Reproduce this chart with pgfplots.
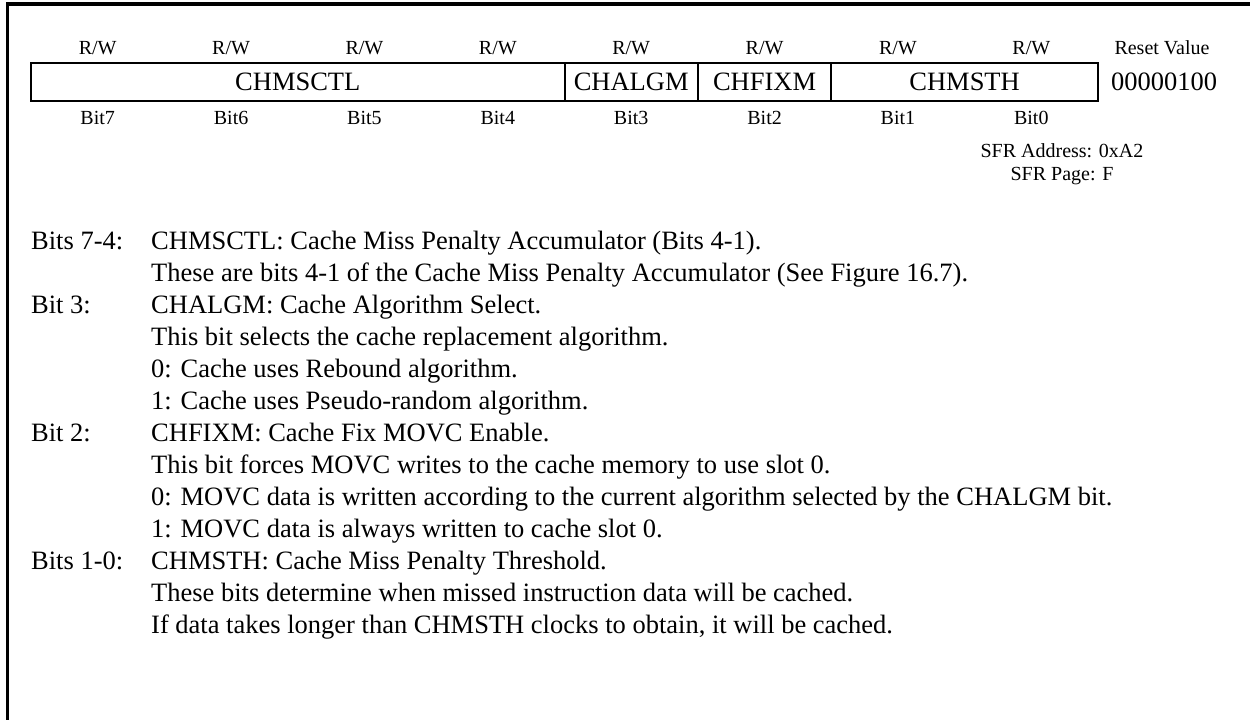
\documentclass[border=0pt]{standalone}
\usepackage{pgfplots}
\pgfplotsset{compat=1.18}
\usepackage{fontspec}
\setmainfont{Liberation Serif}
\tikzset{
  sm/.style={font=\fontsize{20}{24}\selectfont, inner sep=0pt, anchor=base},
  bg/.style={font=\fontsize{26.5}{32}\selectfont, inner sep=0pt, anchor=base},
  bw/.style={font=\fontsize{26.5}{32}\selectfont, inner sep=0pt, anchor=base west},
}
\begin{document}
\begin{tikzpicture}
\begin{axis}[scale only axis, width=1250pt, height=720pt,
  xmin=0, xmax=1250, ymin=0, ymax=720, y dir=reverse,
  axis lines=none, xtick=\empty, ytick=\empty, clip=false]
% outer frame (top and left)
\addplot[black, line width=3.5pt, line join=miter] coordinates {(7.5,730) (7.5,4) (1260,4)};
% register box
\addplot[black, line width=2pt, line cap=rect] coordinates {(31,63) (1098,63) (1098,101) (31,101) (31,63)};
\addplot[black, line width=2pt] coordinates {(564.5,63) (564.5,101)};
\addplot[black, line width=2pt] coordinates {(698,63) (698,101)};
\addplot[black, line width=2pt] coordinates {(831.25,63) (831.25,101)};
% access labels
\node[sm] at (axis cs:97.7,54.5) {R/W};
\node[sm] at (axis cs:231.1,54.5) {R/W};
\node[sm] at (axis cs:364.4,54.5) {R/W};
\node[sm] at (axis cs:497.8,54.5) {R/W};
\node[sm] at (axis cs:631.2,54.5) {R/W};
\node[sm] at (axis cs:764.6,54.5) {R/W};
\node[sm] at (axis cs:897.9,54.5) {R/W};
\node[sm] at (axis cs:1031.3,54.5) {R/W};
\node[sm] at (axis cs:1162,54.5) {Reset Value};
% field names
\node[bg] at (axis cs:297.8,90.5) {CHMSCTL};
\node[bg] at (axis cs:631.2,90.5) {CHALGM};
\node[bg] at (axis cs:764.6,90.5) {CHFIXM};
\node[bg] at (axis cs:964.6,90.5) {CHMSTH};
\node[bg] at (axis cs:1164,90.5) {00000100};
% bit labels
\node[sm] at (axis cs:97.7,124.5) {Bit7};
\node[sm] at (axis cs:231.1,124.5) {Bit6};
\node[sm] at (axis cs:364.4,124.5) {Bit5};
\node[sm] at (axis cs:497.8,124.5) {Bit4};
\node[sm] at (axis cs:631.2,124.5) {Bit3};
\node[sm] at (axis cs:764.6,124.5) {Bit2};
\node[sm] at (axis cs:897.9,124.5) {Bit1};
\node[sm] at (axis cs:1031.3,124.5) {Bit0};
\node[sm] at (axis cs:1062,157.5) {SFR Address: 0xA2};
\node[sm] at (axis cs:1062,180.5) {SFR Page: F};
% description
\node[bw] at (axis cs:31,249) {Bits 7-4:};
\node[bw] at (axis cs:151,249) {CHMSCTL: Cache Miss Penalty Accumulator (Bits 4-1).};
\node[bw] at (axis cs:151,281) {These are bits 4-1 of the Cache Miss Penalty Accumulator (See Figure 16.7).};
\node[bw] at (axis cs:31,313) {Bit 3:};
\node[bw] at (axis cs:151,313) {CHALGM: Cache Algorithm Select.};
\node[bw] at (axis cs:151,345) {This bit selects the cache replacement algorithm.};
\node[bw] at (axis cs:151,377) {0: Cache uses Rebound algorithm.};
\node[bw] at (axis cs:151,409) {1: Cache uses Pseudo-random algorithm.};
\node[bw] at (axis cs:31,441) {Bit 2:};
\node[bw] at (axis cs:151,441) {CHFIXM: Cache Fix MOVC Enable.};
\node[bw] at (axis cs:151,473) {This bit forces MOVC writes to the cache memory to use slot 0.};
\node[bw] at (axis cs:151,505) {0: MOVC data is written according to the current algorithm selected by the CHALGM bit.};
\node[bw] at (axis cs:151,537) {1: MOVC data is always written to cache slot 0.};
\node[bw] at (axis cs:31,569) {Bits 1-0:};
\node[bw] at (axis cs:151,569) {CHMSTH: Cache Miss Penalty Threshold.};
\node[bw] at (axis cs:151,601) {These bits determine when missed instruction data will be cached.};
\node[bw] at (axis cs:151,633) {If data takes longer than CHMSTH clocks to obtain, it will be cached.};
\end{axis}
\pgfresetboundingbox
\path (0,0) rectangle (1250pt,720pt);
\end{tikzpicture}
\end{document}
